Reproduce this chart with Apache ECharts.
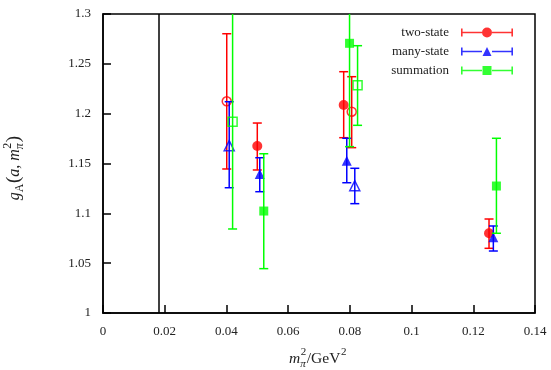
<!DOCTYPE html>
<html>
<head>
<meta charset="utf-8">
<script src="https://cdn.jsdelivr.net/npm/echarts@6/dist/echarts.min.js"></script>
<style>
  html, body { margin: 0; padding: 0; background: #fff; }
  #chart { width: 551px; height: 370px; }
</style>
</head>
<body>
<div id="chart"></div>
<script>
// Each point: [m_pi^2 (GeV^2), g_A, lower error end, upper error end]
const twoState       = [[0.0500, 1.1676, 1.1435, 1.1906], [0.0780, 1.2087, 1.1759, 1.2421], [0.1251, 1.0800, 1.0649, 1.0943]];
const twoStateOpen   = [[0.0401, 1.2124, 1.1445, 1.2802], [0.0806, 1.2020, 1.1659, 1.2371]];
const manyState      = [[0.0508, 1.1395, 1.1217, 1.1558], [0.0790, 1.1528, 1.1307, 1.1753], [0.1265, 1.0760, 1.0622, 1.0873]];
const manyStateOpen  = [[0.0409, 1.1679, 1.1257, 1.2120], [0.0816, 1.1277, 1.1097, 1.1452]];
const summation      = [[0.0521, 1.1023, 1.0445, 1.1598], [0.0799, 1.2706, 1.1669, 1.3743], [0.1275, 1.1274, 1.0800, 1.1753]];
const summationOpen  = [[0.0420, 1.1920, 1.0843, 1.3050], [0.0825, 1.2284, 1.1883, 1.2682]];

// physical pion mass squared
const physMpi2 = 0.0181;

const seriesNames = ['two-state', 'many-state', 'summation'];
const xTicks = { min: 0, max: 0.14, step: 0.02 };
const yTicks = { min: 1, max: 1.3, step: 0.05 };

const RED = '#ff0000', BLUE = '#0000ff', GREEN = '#00ff00';
const SERIF = '"Liberation Serif", "DejaVu Serif", serif';

// legend icons: error bar with marker in the middle
const capsAndBar = 'M0,1 h1.6 v8 h-1.6 Z M50.4,1 h1.6 v8 h-1.6 Z M1.6,4.25 h19.4 v1.5 h-19.4 Z M31,4.25 h19.4 v1.5 h-19.4 Z ';
const iconCircle   = 'path://' + capsAndBar + 'M21,5 A5,5 0 1,1 31,5 A5,5 0 1,1 21,5 Z';
const iconTriangle = 'path://' + capsAndBar + 'M21.5,9.5 L26,0.5 L30.5,9.5 Z';
const iconSquare   = 'path://' + capsAndBar + 'M21.5,0.5 h9 v9 h-9 Z';

function errorBars(color) {
  return function (params, api) {
    const x = api.value(0);
    const top = api.coord([x, api.value(3)]);
    const bot = api.coord([x, api.value(2)]);
    const hw = 4.5;
    const style = { stroke: color, lineWidth: 1.5, fill: null };
    return {
      type: 'group',
      children: [
        { type: 'line', shape: { x1: top[0], y1: top[1], x2: bot[0], y2: bot[1] }, style },
        { type: 'line', shape: { x1: top[0] - hw, y1: top[1], x2: top[0] + hw, y2: top[1] }, style },
        { type: 'line', shape: { x1: bot[0] - hw, y1: bot[1], x2: bot[0] + hw, y2: bot[1] }, style }
      ]
    };
  };
}

function barSeries(data, color, z) {
  return {
    type: 'custom', data, renderItem: errorBars(color), clip: true, silent: true, z,
    encode: { x: 0, y: [2, 3] }
  };
}

function markerSeries(name, data, color, symbol, size, open, z) {
  return {
    name, type: 'scatter', data, symbol, symbolSize: size, z,
    encode: { x: 0, y: 1 },
    itemStyle: open
      ? { color: 'rgba(0,0,0,0)', borderColor: color, borderWidth: 1.5 }
      : { color: color },
    emphasis: { disabled: true }
  };
}

// simple math-style label built from text runs
const measureCtx = document.createElement('canvas').getContext('2d');
function textWidth(t, font) { measureCtx.font = font; return measureCtx.measureText(t).width; }
function fontOf(italic, size) { return (italic ? 'italic ' : '') + size + 'px ' + SERIF; }
function mathLabel(runs, size) {
  const small = Math.round(size * 0.72);
  const kids = [];
  let x = 0;
  const put = (t, xx, yy, font) => kids.push({
    type: 'text', x: xx, y: yy,
    style: { text: t, font, fill: '#222', verticalAlign: 'middle', align: 'left' }
  });
  runs.forEach(r => {
    if (r.sup !== undefined || r.sub !== undefined) {
      let adv = 0;
      if (r.sup !== undefined) {
        const f = fontOf(false, small);
        put(r.sup, x + 0.5, -size * 0.42, f);
        adv = Math.max(adv, textWidth(r.sup, f) + 0.5);
      }
      if (r.sub !== undefined) {
        const f = fontOf(r.subItalic, small);
        put(r.sub, x, size * 0.3, f);
        adv = Math.max(adv, textWidth(r.sub, f));
      }
      x += adv + 0.5;
    } else {
      const s = r.size || size;
      const f = fontOf(r.italic, s);
      put(r.t, x, r.dy || 0, f);
      x += textWidth(r.t, f) + (r.gap || 0);
    }
  });
  kids.forEach(k => { k.x -= x / 2; });
  return kids;
}

const xName = mathLabel([
  { t: 'm', italic: true }, { sub: 'π', subItalic: true, sup: '2' },
  { t: '/GeV' }, { sup: '2' }
], 15.5);
const yName = mathLabel([
  { t: 'g', italic: true }, { sub: 'A' }, { t: '(', size: 19, dy: -1 }, { t: 'a', italic: true },
  { t: ',', gap: 4 }, { t: 'm', italic: true }, { sub: 'π', subItalic: true, sup: '2' },
  { t: ')', size: 19, dy: -1 }
], 16);

const axisCommon = {
  axisLine: { show: true, onZero: false, lineStyle: { color: '#000', width: 1.5 } },
  axisTick: { show: true, inside: true, length: 8, lineStyle: { color: '#000', width: 1.5 } },
  splitLine: { show: false },
  axisLabel: { color: '#222', fontFamily: SERIF, fontSize: 13, margin: 12 }
};

const chart = echarts.init(document.getElementById('chart'), null, { renderer: 'canvas' });
chart.setOption({
  animation: false,
  backgroundColor: '#fff',
  grid: { left: 103, right: 16, top: 14, bottom: 57, show: true, borderColor: '#000', borderWidth: 1.5, backgroundColor: 'transparent' },
  xAxis: Object.assign({ type: 'value', min: xTicks.min, max: xTicks.max, interval: xTicks.step }, axisCommon),
  yAxis: Object.assign({ type: 'value', min: yTicks.min, max: yTicks.max, interval: yTicks.step }, axisCommon),
  legend: {
    data: [
      { name: seriesNames[0], icon: iconCircle },
      { name: seriesNames[1], icon: iconTriangle },
      { name: seriesNames[2], icon: iconSquare }
    ],
    orient: 'vertical', align: 'right', right: 38, top: 26, padding: 0,
    itemWidth: 52, itemHeight: 10, itemGap: 6, selectedMode: false,
    textStyle: { fontFamily: SERIF, fontSize: 13, color: '#222', padding: [0, 7, 0, 0] }
  },
  graphic: [
    { type: 'group', x: 318, y: 359, children: xName },
    { type: 'group', x: 15, y: 168, rotation: Math.PI / 2, children: yName }
  ],
  series: [
    Object.assign(barSeries(twoState.concat(twoStateOpen), RED, 2), {
      markLine: {
        silent: true, symbol: 'none', label: { show: false }, precision: 4,
        lineStyle: { color: '#000', width: 1.5, type: 'solid' },
        data: [{ xAxis: physMpi2 }]
      }
    }),
    markerSeries(seriesNames[0], twoState, RED, 'circle', 10, false, 3),
    markerSeries('two-state (open)', twoStateOpen, RED, 'circle', 9, true, 3),
    barSeries(manyState.concat(manyStateOpen), BLUE, 4),
    markerSeries(seriesNames[1], manyState, BLUE, 'triangle', 10, false, 5),
    markerSeries('many-state (open)', manyStateOpen, BLUE, 'triangle', 10, true, 5),
    barSeries(summation.concat(summationOpen), GREEN, 6),
    markerSeries(seriesNames[2], summation, GREEN, 'rect', 9, false, 7),
    markerSeries('summation (open)', summationOpen, GREEN, 'rect', 9, true, 7)
  ]
});
</script>
</body>
</html>
